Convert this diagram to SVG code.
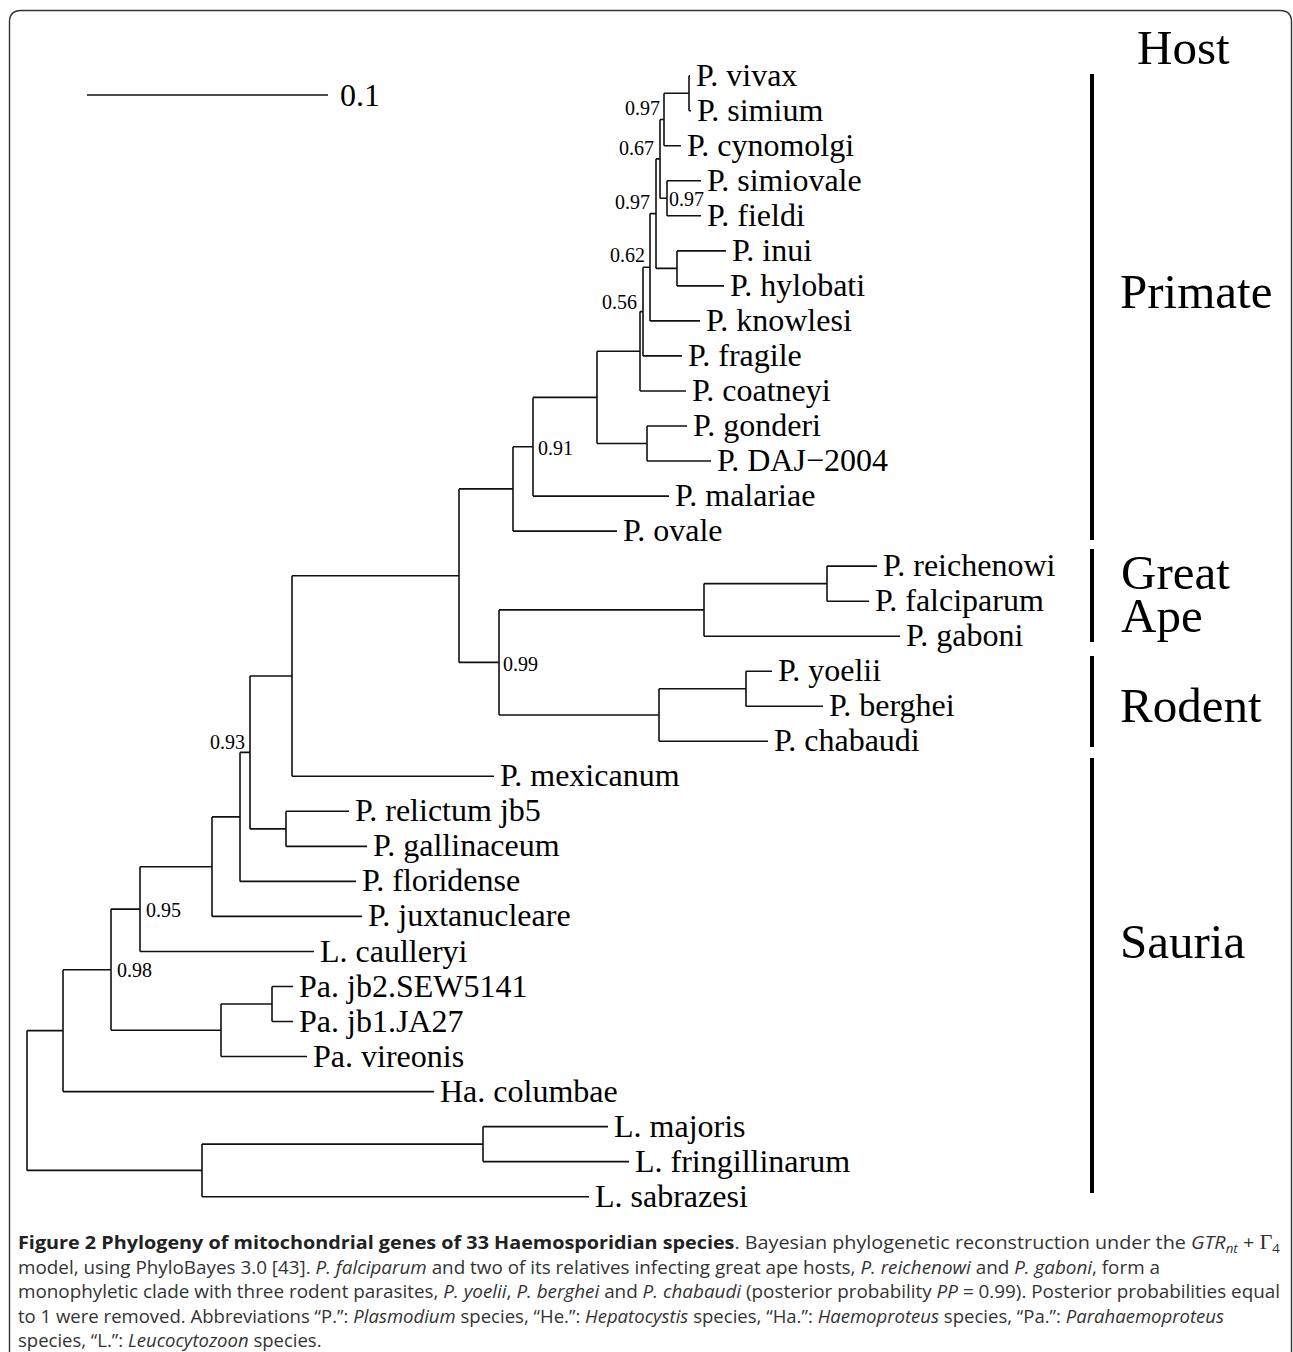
<svg xmlns="http://www.w3.org/2000/svg" width="1293" height="1352" viewBox="0 0 1293 1352">
<style>
.br{fill:none;stroke:#111;stroke-width:1.6}
.lf{font-family:"Liberation Serif","Times New Roman",serif;font-size:32px;fill:#000}
.bs{font-family:"Liberation Serif","Times New Roman",serif;font-size:20px;fill:#000}
.host{font-family:"Liberation Serif","Times New Roman",serif;font-size:49px;fill:#000}
.bar{stroke:#000;stroke-width:4}
.cap{font-family:"Open Sans","Noto Sans",sans-serif;font-size:18.5px;fill:#333}
.b{font-weight:bold;fill:#222}
.i{font-style:italic}
</style>
<rect width="1293" height="1352" fill="#fff"/>
<path d="M9.5,1352 V22 Q9.5,10.5 21,10.5 H1280 Q1291.5,10.5 1291.5,22 V1352" fill="none" stroke="#333" stroke-width="1.4"/>
<g id="scale">
<line x1="87" y1="95" x2="328" y2="95" stroke="#111" stroke-width="1.6"/>
<text class="lf" x="340" y="106">0.1</text>
</g>
<g id="connectors">
<path class="br" d="M689,75.7 V110.7 M689,75.7 H690 M689,110.7 H691"/>
<path class="br" d="M664,93.2 V145.8 M664,93.2 H689 M664,145.8 H681"/>
<path class="br" d="M667,180.8 V215.8 M667,180.8 H701 M667,215.8 H701"/>
<path class="br" d="M660,119.5 V198.3 M660,119.5 H664 M660,198.3 H667"/>
<path class="br" d="M677,250.9 V285.9 M677,250.9 H726 M677,285.9 H724"/>
<path class="br" d="M656,158.9 V268.4 M656,158.9 H660 M656,268.4 H677"/>
<path class="br" d="M650,213.6 V320.9 M650,213.6 H656 M650,320.9 H700"/>
<path class="br" d="M643,267.3 V355.9 M643,267.3 H650 M643,355.9 H682"/>
<path class="br" d="M640,311.6 V391 M640,311.6 H643 M640,391 H686"/>
<path class="br" d="M647,426 V461 M647,426 H687 M647,461 H711"/>
<path class="br" d="M597,351.3 V443.5 M597,351.3 H640 M597,443.5 H647"/>
<path class="br" d="M533,397.4 V496.1 M533,397.4 H597 M533,496.1 H669"/>
<path class="br" d="M513,446.7 V531.1 M513,446.7 H533 M513,531.1 H617"/>
<path class="br" d="M827,566.1 V601.2 M827,566.1 H877 M827,601.2 H869"/>
<path class="br" d="M704,583.6 V636.2 M704,583.6 H827 M704,636.2 H900"/>
<path class="br" d="M746,671.2 V706.2 M746,671.2 H772 M746,706.2 H823"/>
<path class="br" d="M659,688.7 V741.3 M659,688.7 H746 M659,741.3 H768"/>
<path class="br" d="M499,609.9 V715 M499,609.9 H704 M499,715 H659"/>
<path class="br" d="M459,488.9 V662.4 M459,488.9 H513 M459,662.4 H499"/>
<path class="br" d="M292,575.7 V776.3 M292,575.7 H459 M292,776.3 H494"/>
<path class="br" d="M286,811.3 V846.4 M286,811.3 H349 M286,846.4 H367"/>
<path class="br" d="M250,676 V828.9 M250,676 H292 M250,828.9 H286"/>
<path class="br" d="M240,752.4 V881.4 M240,752.4 H250 M240,881.4 H356"/>
<path class="br" d="M212,816.9 V916.4 M212,816.9 H240 M212,916.4 H362"/>
<path class="br" d="M140,866.7 V951.5 M140,866.7 H212 M140,951.5 H314"/>
<path class="br" d="M272,986.5 V1021.5 M272,986.5 H293 M272,1021.5 H293"/>
<path class="br" d="M221,1004 V1056.5 M221,1004 H272 M221,1056.5 H307"/>
<path class="br" d="M111,909.1 V1030.3 M111,909.1 H140 M111,1030.3 H221"/>
<path class="br" d="M63,969.7 V1091.6 M63,969.7 H111 M63,1091.6 H434"/>
<path class="br" d="M483,1126.6 V1161.6 M483,1126.6 H608 M483,1161.6 H629"/>
<path class="br" d="M202,1144.1 V1196.7 M202,1144.1 H483 M202,1196.7 H589"/>
<path class="br" d="M27,1030.6 V1170.4 M27,1030.6 H63 M27,1170.4 H202"/>
</g>
<g id="leaves">
<g id="n-vivax"><text class="lf" x="696" y="85.7">P. vivax</text></g>
<g id="n-simium"><text class="lf" x="697" y="120.7">P. simium</text></g>
<g id="n-cynomolgi"><text class="lf" x="687" y="155.8">P. cynomolgi</text></g>
<g id="n-simiovale"><text class="lf" x="707" y="190.8">P. simiovale</text></g>
<g id="n-fieldi"><text class="lf" x="707" y="225.8">P. fieldi</text></g>
<g id="n-inui"><text class="lf" x="732" y="260.9">P. inui</text></g>
<g id="n-hylobati"><text class="lf" x="730" y="295.9">P. hylobati</text></g>
<g id="n-knowlesi"><text class="lf" x="706" y="330.9">P. knowlesi</text></g>
<g id="n-fragile"><text class="lf" x="688" y="365.9">P. fragile</text></g>
<g id="n-coatneyi"><text class="lf" x="692" y="401">P. coatneyi</text></g>
<g id="n-gonderi"><text class="lf" x="693" y="436">P. gonderi</text></g>
<g id="n-daj"><text class="lf" x="717" y="471">P. DAJ−2004</text></g>
<g id="n-malariae"><text class="lf" x="675" y="506.1">P. malariae</text></g>
<g id="n-ovale"><text class="lf" x="623" y="541.1">P. ovale</text></g>
<g id="n-reichenowi"><text class="lf" x="883" y="576.1">P. reichenowi</text></g>
<g id="n-falciparum"><text class="lf" x="875" y="611.2">P. falciparum</text></g>
<g id="n-gaboni"><text class="lf" x="906" y="646.2">P. gaboni</text></g>
<g id="n-yoelii"><text class="lf" x="778" y="681.2">P. yoelii</text></g>
<g id="n-berghei"><text class="lf" x="829" y="716.2">P. berghei</text></g>
<g id="n-chabaudi"><text class="lf" x="774" y="751.3">P. chabaudi</text></g>
<g id="n-mexicanum"><text class="lf" x="500" y="786.3">P. mexicanum</text></g>
<g id="n-relictum"><text class="lf" x="355" y="821.3">P. relictum jb5</text></g>
<g id="n-gallinaceum"><text class="lf" x="373" y="856.4">P. gallinaceum</text></g>
<g id="n-floridense"><text class="lf" x="362" y="891.4">P. floridense</text></g>
<g id="n-juxtanucleare"><text class="lf" x="368" y="926.4">P. juxtanucleare</text></g>
<g id="n-caulleryi"><text class="lf" x="320" y="961.5">L. caulleryi</text></g>
<g id="n-jb2"><text class="lf" x="299" y="996.5">Pa. jb2.SEW5141</text></g>
<g id="n-jb1"><text class="lf" x="299" y="1031.5">Pa. jb1.JA27</text></g>
<g id="n-vireonis"><text class="lf" x="313" y="1066.5">Pa. vireonis</text></g>
<g id="n-columbae"><text class="lf" x="440" y="1101.6">Ha. columbae</text></g>
<g id="n-majoris"><text class="lf" x="614" y="1136.6">L. majoris</text></g>
<g id="n-fringillinarum"><text class="lf" x="635" y="1171.6">L. fringillinarum</text></g>
<g id="n-sabrazesi"><text class="lf" x="595" y="1206.7">L. sabrazesi</text></g>
</g>
<g id="support">
<text class="bs" x="660" y="115" text-anchor="end">0.97</text>
<text class="bs" x="654" y="155" text-anchor="end">0.67</text>
<text class="bs" x="669" y="205.5">0.97</text>
<text class="bs" x="650" y="208.5" text-anchor="end">0.97</text>
<text class="bs" x="645" y="262" text-anchor="end">0.62</text>
<text class="bs" x="637" y="309" text-anchor="end">0.56</text>
<text class="bs" x="538" y="455">0.91</text>
<text class="bs" x="503" y="671">0.99</text>
<text class="bs" x="245" y="748.5" text-anchor="end">0.93</text>
<text class="bs" x="146" y="917">0.95</text>
<text class="bs" x="117" y="977">0.98</text>
</g>
<g id="hosts">
<g id="h-host"><text class="host" x="1137" y="64">Host</text></g>
<g id="h-primate"><line class="bar" x1="1092" y1="74" x2="1092" y2="540"/><text class="host" x="1120" y="308">Primate</text></g>
<g id="h-greatape"><line class="bar" x1="1092" y1="549" x2="1092" y2="642"/><text class="host" x="1121" y="589">Great</text><text class="host" x="1121" y="632">Ape</text></g>
<g id="h-rodent"><line class="bar" x1="1092" y1="656" x2="1092" y2="747"/><text class="host" x="1120" y="722">Rodent</text></g>
<g id="h-sauria"><line class="bar" x1="1092" y1="758" x2="1092" y2="1193"/><text class="host" x="1120" y="958">Sauria</text></g>
</g>
<g id="caption">
<text class="cap" x="18" y="1249" textLength="1262" lengthAdjust="spacingAndGlyphs"><tspan class="b">Figure 2 Phylogeny of mitochondrial genes of 33 Haemosporidian species</tspan>. Bayesian phylogenetic reconstruction under the <tspan class="i">GTR</tspan><tspan class="i" font-size="12.5" dy="4">nt</tspan><tspan dy="-4"> + </tspan><tspan font-family="Liberation Serif, serif" font-size="21">Γ</tspan><tspan font-size="12.5" dy="4">4</tspan></text>
<text class="cap" x="18" y="1273.5" textLength="1142" lengthAdjust="spacingAndGlyphs">model, using PhyloBayes 3.0 [43]. <tspan class="i">P. falciparum</tspan> and two of its relatives infecting great ape hosts, <tspan class="i">P. reichenowi</tspan> and <tspan class="i">P. gaboni</tspan>, form a</text>
<text class="cap" x="18" y="1298" textLength="1262" lengthAdjust="spacingAndGlyphs">monophyletic clade with three rodent parasites, <tspan class="i">P. yoelii</tspan>, <tspan class="i">P. berghei</tspan> and <tspan class="i">P. chabaudi</tspan> (posterior probability <tspan class="i">PP</tspan> = 0.99). Posterior probabilities equal</text>
<text class="cap" x="18" y="1322.5" textLength="1206" lengthAdjust="spacingAndGlyphs">to 1 were removed. Abbreviations “P.”: <tspan class="i">Plasmodium</tspan> species, “He.”: <tspan class="i">Hepatocystis</tspan> species, “Ha.”: <tspan class="i">Haemoproteus</tspan> species, “Pa.”: <tspan class="i">Parahaemoproteus</tspan></text>
<text class="cap" x="18" y="1347">species, “L.”: <tspan class="i">Leucocytozoon</tspan> species.</text>
</g>
</svg>
